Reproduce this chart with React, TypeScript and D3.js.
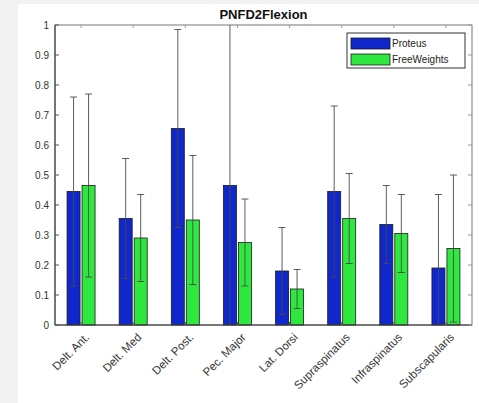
import React from "react";
import * as d3 from "d3";

const categories = [
  "Delt. Ant.",
  "Delt. Med",
  "Delt. Post.",
  "Pec. Major",
  "Lat. Dorsi",
  "Supraspinatus",
  "Infraspinatus",
  "Subscapularis",
];
const seriesNames = ["Proteus", "FreeWeights"];
const proteusMean = [0.445, 0.355, 0.655, 0.465, 0.18, 0.445, 0.335, 0.19];
const proteusSd = [0.315, 0.2, 0.33, 0.56, 0.145, 0.285, 0.13, 0.245];
const freeMean = [0.465, 0.29, 0.35, 0.275, 0.12, 0.355, 0.305, 0.255];
const freeSd = [0.305, 0.145, 0.215, 0.145, 0.065, 0.15, 0.13, 0.245];
const yTicks = [0, 0.1, 0.2, 0.3, 0.4, 0.5, 0.6, 0.7, 0.8, 0.9, 1];

const W = 479;
const H = 403;
const left = 55;
const right = 472;
const top = 25;
const bottom = 325;
const colors = ["#1027cc", "#2fe83f"];

export default function App() {
  const x = d3
    .scaleLinear()
    .domain([0.5, categories.length + 0.5])
    .range([left, right]);
  const y = d3.scaleLinear().domain([0, 1]).range([bottom, top]);
  const barW = 13;
  const offsets = [-7.5, 7.5];
  const series = [
    { mean: proteusMean, sd: proteusSd },
    { mean: freeMean, sd: freeSd },
  ];
  const clampY = (v: number) => y(Math.max(0, Math.min(1, v)));
  const font = "Liberation Sans, Arial, sans-serif";

  return (
    <svg
      width={W}
      height={H}
      style={{ position: "fixed", left: 0, top: 0, display: "block" }}
      fontFamily={font}
    >
      <rect x={0} y={0} width={W} height={H} fill="#f2f2f2" />
      <rect x={18} y={4} width={W - 18} height={H - 4} fill="#ffffff" />

      {/* bars */}
      {series.map((s, si) =>
        categories.map((c, i) => (
          <rect
            key={`b${si}-${i}`}
            x={x(i + 1) + offsets[si] - barW / 2}
            y={y(s.mean[i])}
            width={barW}
            height={bottom - y(s.mean[i])}
            fill={colors[si]}
            stroke="#1a1a1a"
            strokeWidth={0.8}
          />
        ))
      )}

      {/* error bars */}
      {series.map((s, si) =>
        categories.map((c, i) => {
          const cx = x(i + 1) + offsets[si];
          const hi = s.mean[i] + s.sd[i];
          const lo = s.mean[i] - s.sd[i];
          return (
            <g key={`e${si}-${i}`} stroke="#4a4a4a" strokeWidth={0.9}>
              <line x1={cx} x2={cx} y1={clampY(lo)} y2={clampY(hi)} />
              {hi <= 1 && <line x1={cx - 3.5} x2={cx + 3.5} y1={y(hi)} y2={y(hi)} />}
              {lo >= 0 && <line x1={cx - 3.5} x2={cx + 3.5} y1={y(lo)} y2={y(lo)} />}
            </g>
          );
        })
      )}

      {/* axes box */}
      <rect
        x={left}
        y={top}
        width={right - left}
        height={bottom - top}
        fill="none"
        stroke="#555"
        strokeWidth={0.8}
      />
      <line x1={left} x2={right} y1={bottom} y2={bottom} stroke="#333" strokeWidth={1.2} />
      <line x1={left} x2={left} y1={top} y2={bottom} stroke="#333" strokeWidth={1} />

      {/* y ticks */}
      {yTicks.map((t) => (
        <g key={`yt${t}`}>
          <line x1={left} x2={left + 4} y1={y(t)} y2={y(t)} stroke="#555" />
          <line x1={right} x2={right - 4} y1={y(t)} y2={y(t)} stroke="#999" />
          <text
            x={left - 6}
            y={y(t)}
            dy="0.35em"
            textAnchor="end"
            fontSize={10}
            fill="#333"
          >
            {t}
          </text>
        </g>
      ))}

      {/* x ticks and labels */}
      {categories.map((c, i) => (
        <g key={`xt${i}`}>
          <line x1={x(i + 1)} x2={x(i + 1)} y1={top} y2={top + 3} stroke="#999" />
          <line x1={x(i + 1)} x2={x(i + 1)} y1={bottom} y2={bottom - 3} stroke="#555" />
          <text
            transform={`translate(${x(i + 1) + 9},${bottom + 13}) rotate(-45)`}
            textAnchor="end"
            fontSize={11.5}
            fill="#333"
          >
            {c}
          </text>
        </g>
      ))}

      {/* title */}
      <text
        x={(left + right) / 2}
        y={19}
        textAnchor="middle"
        fontSize={13}
        fontWeight="bold"
        fill="#111"
      >
        PNFD2Flexion
      </text>

      {/* legend */}
      <g>
        <rect x={347} y={33} width={118} height={35} fill="#fff" stroke="#333" strokeWidth={1} />
        {seriesNames.map((n, i) => (
          <g key={n}>
            <rect
              x={351}
              y={38 + i * 16}
              width={39}
              height={11}
              fill={colors[i]}
              stroke="#1a1a1a"
              strokeWidth={0.8}
            />
            <text x={392} y={43.5 + i * 16} dy="0.35em" fontSize={10} fill="#222">
              {n}
            </text>
          </g>
        ))}
      </g>
    </svg>
  );
}
